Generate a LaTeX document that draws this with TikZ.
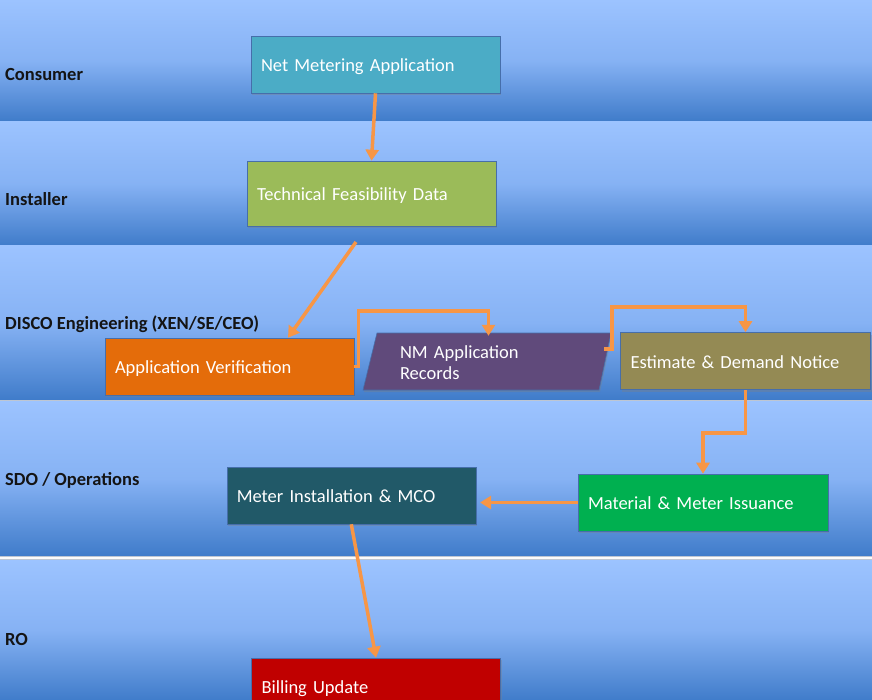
\documentclass[tikz,border=0pt]{standalone}
\usepackage{fontspec}
\setmainfont{Carlito}
\usetikzlibrary{arrows.meta,shadows,calc}
\definecolor{laneTop}{RGB}{156,195,255}
\definecolor{laneMid}{RGB}{134,178,244}
\definecolor{laneBot}{RGB}{64,124,202}
\definecolor{sepGray}{RGB}{190,198,210}
\definecolor{boxEdge}{RGB}{70,110,170}
\definecolor{arrowOrange}{RGB}{247,150,70}
\definecolor{cNet}{RGB}{75,172,198}
\definecolor{cTech}{RGB}{155,187,89}
\definecolor{cApp}{RGB}{228,108,10}
\definecolor{cNM}{RGB}{96,74,123}
\definecolor{cEst}{RGB}{148,138,84}
\definecolor{cMat}{RGB}{0,176,80}
\definecolor{cMI}{RGB}{33,89,104}
\definecolor{cBill}{RGB}{192,0,0}
\tikzset{
  lane/.style={top color=laneTop, bottom color=laneBot, middle color=laneMid, draw=none},
  lanelabel/.style={anchor=west, font=\bfseries\fontsize{18.5}{22}\selectfont, text=black!92, inner sep=0pt},
  stepbox/.style={rectangle, minimum width=249pt, minimum height=57pt, text width=229pt,
    inner xsep=10pt, inner ysep=0pt, align=left, text=white,
    text height=18.5pt, text depth=4.5pt,
    font=\fontsize{18.5}{22}\selectfont, draw=boxEdge, line width=0.6pt,
    drop shadow={shadow xshift=1pt,shadow yshift=-2pt,opacity=0.35}},
  arr/.style={draw=arrowOrange, line width=3.5pt, -{Triangle[length=11pt,width=13pt]}},
}
\begin{document}
\begin{tikzpicture}[x=1pt,y=-1pt]
\useasboundingbox (0,0) rectangle (872,700);
\begin{scope}
\clip (0,0) rectangle (872,700);
\fill[sepGray] (0,0) rectangle (872,700);
\fill[white!92!sepGray] (0,556.5) rectangle (872,559);
% lanes
\shade[lane] (0,0) rectangle (872,121);
\shade[lane] (0,122) rectangle (872,245);
\shade[lane] (0,246) rectangle (872,399.5);
\shade[lane] (0,401.5) rectangle (872,555.5);
\shade[lane] (0,560) rectangle (872,700);
% lane labels
\node[lanelabel] (l1) at (5,75) {Consumer};
\node[lanelabel] (l2) at (5,199) {Installer};
\node[lanelabel] (l3) at (5,324) {DISCO Engineering (XEN/SE/CEO)};
\node[lanelabel] (l4) at (5,480) {SDO / Operations};
\node[lanelabel] (l5) at (5,639) {RO};
% boxes
\node[stepbox, fill=cNet] (net) at (375.5,64.5) {Net Metering Application};
\node[stepbox, fill=cTech, minimum height=65pt] (tech) at (371.5,193.5) {Technical Feasibility Data};
\node[stepbox, fill=cApp] (app) at (229.5,366.5) {Application Verification};
\fill[cNM, draw=boxEdge, line width=0.6pt, drop shadow={shadow xshift=1pt,shadow yshift=-2pt,opacity=0.35}]
  (377,333) -- (611,333) -- (599,390) -- (363,390) -- cycle;
\node[rectangle, minimum width=251pt, minimum height=57pt, inner xsep=37pt, inner ysep=0pt,
  align=left, text width=177pt, text=white, font=\fontsize{18.5}{21}\selectfont] (nm) at (488.5,363)
  {NM Application\\Records};
\node[stepbox, fill=cEst, minimum width=250pt, text width=230pt] (est) at (745.5,361) {Estimate \& Demand Notice};
\node[stepbox, fill=cMat, minimum width=250pt, text width=230pt] (mat) at (703,502.5) {Material \& Meter Issuance};
\node[stepbox, fill=cMI] (mi) at (351.3,495.5) {Meter Installation \& MCO};
\node[stepbox, fill=cBill] (bill) at (376,686.5) {Billing Update};
% connectors
\coordinate (techout) at (356,242);
\coordinate (nmout) at (604,349);
\draw[arr] (net.south) -- (tech.north);
\draw[arr] (techout) -- ([xshift=58.5pt]app.north);
\draw[arr] (app.east) -- ++(4,0) |- ([yshift=23.5pt]nm.north) -- ([yshift=-1.5pt]nm.north);
\draw[arr] (nmout) -- ++(8,0) |- ([yshift=25pt]est.north) -- (est.north);
\draw[arr] (est.south) -- ++(0,43) -| (mat.north);
\draw[arr] (mat.west) -- ([xshift=4pt]mi.east |- mat.west);
\draw[arr] (mi.south) -- (bill.north);
\end{scope}
\end{tikzpicture}
\end{document}
